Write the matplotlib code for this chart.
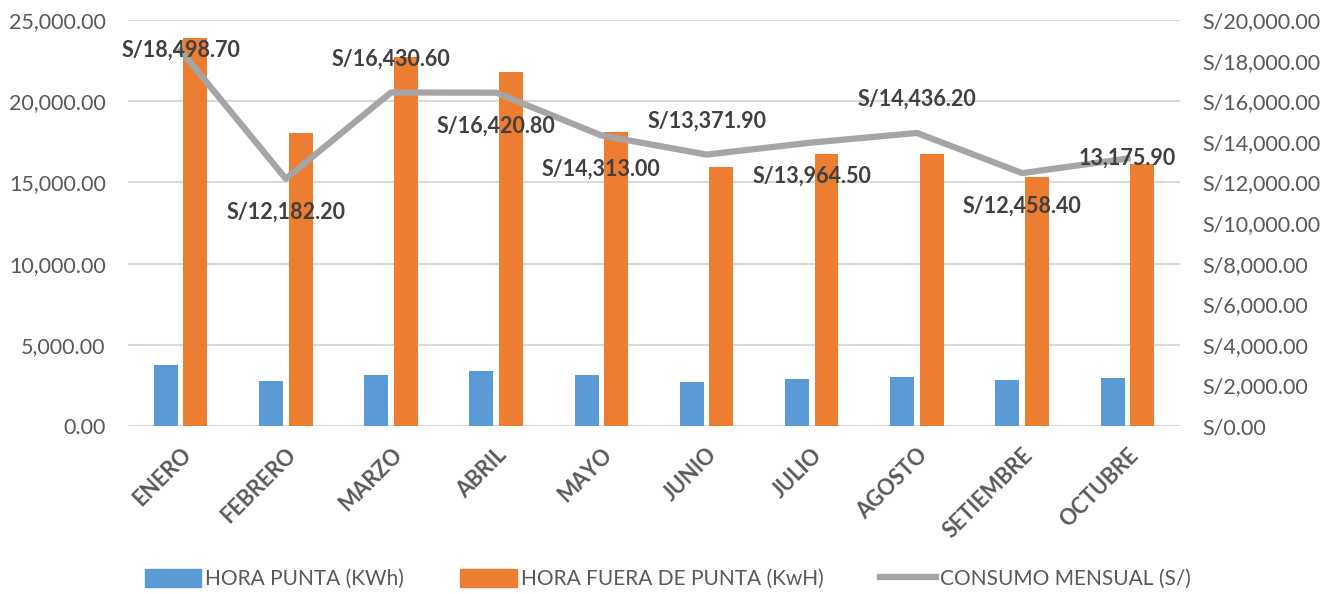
import matplotlib
matplotlib.use('Agg')
import matplotlib.pyplot as plt
from matplotlib.ticker import FuncFormatter
from matplotlib.lines import Line2D
from matplotlib.patches import Patch
import numpy as np

plt.rcParams['font.family'] = ['Lato', 'DejaVu Sans']

meses = ['ENERO', 'FEBRERO', 'MARZO', 'ABRIL', 'MAYO', 'JUNIO', 'JULIO',
         'AGOSTO', 'SETIEMBRE', 'OCTUBRE']
hora_punta = [3780, 2770, 3160, 3370, 3140, 2730, 2920, 3020, 2830, 2980]
hora_fuera = [23870, 18060, 22700, 21780, 18120, 15930, 16730, 16750, 15330, 16110]
consumo = [18498.70, 12182.20, 16430.60, 16420.80, 14313.00, 13371.90,
           13964.50, 14436.20, 12458.40, 13175.90]
etiquetas = ['S/18,498.70', 'S/12,182.20', 'S/16,430.60', 'S/16,420.80',
             'S/14,313.00', 'S/13,371.90', 'S/13,964.50', 'S/14,436.20',
             'S/12,458.40', '13,175.90']
# label position relative to the point: 0 centre, 1 above, -1 below
lugar = [0, -1, 1, -1, -1, 1, -1, 1, -1, 0]

azul = '#5B9BD5'
naranja = '#ED7D31'
gris = '#A5A5A5'
texto = '#595959'

fig = plt.figure(figsize=(13.36, 5.94), dpi=100)
ax = fig.add_axes([0.0958, 0.2828, 0.7874, 0.6835])
ax2 = ax.twinx()

x = np.arange(len(meses))
w = 0.228
ax.bar(x - 0.14, hora_punta, w, color=azul, zorder=2)
ax.bar(x + 0.14, hora_fuera, w, color=naranja, zorder=2)
ax.set_xlim(-0.5, len(meses) - 0.5)
ax.set_ylim(0, 25000)
ax.set_yticks(np.arange(0, 25001, 5000))
ax.yaxis.set_major_formatter(FuncFormatter(lambda v, p: f'{v:,.2f}'))
ax.grid(axis='y', color='#D9D9D9', linewidth=1.5, zorder=0)
ax.set_axisbelow(True)

ax2.plot(x, consumo, color=gris, linewidth=4.5, zorder=3)
ax2.set_ylim(0, 20000)
ax2.set_yticks(np.arange(0, 20001, 2000))
ax2.yaxis.set_major_formatter(FuncFormatter(lambda v, p: f'S/{v:,.2f}'))

for a in (ax, ax2):
    for s in a.spines.values():
        s.set_visible(False)
    a.tick_params(length=0, labelsize=15.5, labelcolor=texto, pad=16)

ax.set_xticks(x)
ax.set_xticklabels(meses, rotation=45, ha='right', va='top',
                   rotation_mode='anchor', fontweight='bold', fontsize=15.5)
ax.tick_params(axis='x', pad=13)

for i in range(len(meses)):
    dy = 24 * lugar[i]
    ax2.annotate(etiquetas[i], (x[i], consumo[i]), xytext=(0, dy),
                 textcoords='offset points', ha='center', va='center',
                 fontsize=15.5, fontweight='bold', color='#404040', zorder=4)

handles = [Patch(color=azul), Patch(color=naranja),
           Line2D([0], [0], color=gris, linewidth=4.5)]
labels = ['HORA PUNTA (KWh)', 'HORA FUERA DE PUNTA (KwH)', 'CONSUMO MENSUAL (S/)']
fig.legend(handles, labels, loc='center', bbox_to_anchor=(0.5, 0.025), ncol=3,
           frameon=False, fontsize=15, labelcolor=texto, handlelength=2.7,
           handleheight=0.9, columnspacing=2.7, handletextpad=0.2)

fig.savefig('out.png', dpi=100)
